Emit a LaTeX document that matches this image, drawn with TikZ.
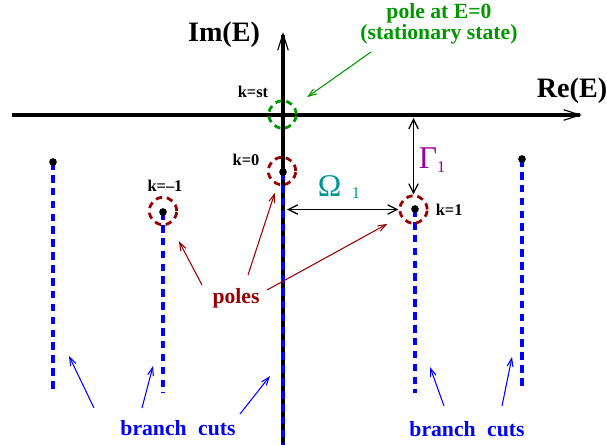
\documentclass[tikz,border=0pt]{standalone}
\usepackage{fontspec}
\setmainfont{Liberation Serif}
\usetikzlibrary{arrows.meta, positioning}

\definecolor{polered}{RGB}{150,0,0}
\definecolor{stgreen}{RGB}{0,150,0}
\definecolor{cutblue}{RGB}{0,0,255}
\definecolor{gampurple}{RGB}{153,0,153}
\definecolor{omteal}{RGB}{0,150,150}

\begin{document}
\begin{tikzpicture}[x=0.03cm, y=-0.03cm, inner sep=0pt,
    axis/.style={line width=3.6pt, -{Straight Barb[length=14pt, width=9pt, line width=1pt]}},
    gap/.style={line width=1.2pt, {Straight Barb[length=8pt, width=8pt, line width=1.1pt]}-{Straight Barb[length=8pt, width=8pt, line width=1.1pt]}},
    pointer/.style={line width=0.9pt, -{Straight Barb[length=7pt, width=5pt, line width=0.9pt]}},
    cut/.style={cutblue, line width=2.6pt, dash pattern=on 6.5pt off 4.5pt},
    dot/.style={circle, fill=black, minimum size=0.23cm},
    ring/.style={circle, draw=#1, line width=2.4pt, dash pattern=on 5.5pt off 4pt, minimum size=0.82cm},
    klabel/.style={font=\bfseries\fontsize{14}{14}\selectfont},
    biglabel/.style={font=\bfseries\fontsize{24}{24}\selectfont},
    note/.style={font=\bfseries\fontsize{18.5}{16.5}\selectfont, align=center}]
    \useasboundingbox (0,0) rectangle (607,445);

    % axes
    \coordinate (xmin) at (12,115);
    \coordinate (xmax) at (582,115);
    \coordinate (ymin) at (283,445);
    \coordinate (ymax) at (283,32);
    \draw[axis] (xmin) -- (xmax);
    \draw[axis] (ymin) -- (ymax);
    \node[biglabel] (im) at (224,35) {Im(E)};
    \node[biglabel] (re) at (572,91) {Re(E)};

    % pole positions and their branch cuts
    \coordinate (kfl) at (53,162);
    \coordinate (km1) at (163,212);
    \coordinate (k0) at (283,172);
    \coordinate (k1) at (415,209);
    \coordinate (kfr) at (522,159);
    \coordinate (efl) at (53,393);
    \coordinate (em1) at (163,393);
    \coordinate (e0) at (283,445);
    \coordinate (e1) at (415,393);
    \coordinate (efr) at (522,388);
    \draw[cut] (kfl) -- (efl);
    \draw[cut] (km1) -- (em1);
    \draw[cut] (k0) -- (e0);
    \draw[cut] (k1) -- (e1);
    \draw[cut] (kfr) -- (efr);

    % rings round the poles
    \node[ring=stgreen] (rst) at (282.5,114.5) {};
    \node[ring=polered] (rm1) at (163,211) {};
    \node[ring=polered] (r0) at (282,171) {};
    \node[ring=polered] (r1) at (413.5,209.5) {};

    \node[dot] (pfl) at (kfl) {};
    \node[dot] (pm1) at (km1) {};
    \node[dot] (p0) at (k0) {};
    \node[dot] (p1) at (k1) {};
    \node[dot] (pfr) at (kfr) {};

    \node[klabel] (lst) at (253,92) {k=st};
    \node[klabel] (lk0) at (246,160) {k=0};
    \node[klabel] (lkm1) at (165,186) {k=–1};
    \node[klabel, right=6pt of r1] (lk1) {k=1};

    % widths
    \coordinate (gtop) at (413.5,118);
    \coordinate (oleft) at (287,209.5);
    \draw[gap] (gtop) -- (r1.north);
    \draw[gap] (oleft) -- (r1.west);
    \node[font=\fontsize{27}{27}\selectfont, text=gampurple] (gam) at (432,160) {Γ\raisebox{-4pt}{\fontsize{14}{14}\selectfont 1}};
    \node[font=\fontsize{27}{27}\selectfont, text=omteal] (om) at (339,187) {Ω\hspace{9pt}\raisebox{-2pt}{\fontsize{14}{14}\selectfont 1}};

    % pointers
    \node[note, text=stgreen] (stat) at (439,24) {pole at E=0\\(stationary state)};
    \coordinate (tst) at (371,52);
    \draw[pointer, stgreen, shorten >=0.45cm] (tst) -- (rst);

    \node[note, text=polered] (poles) at (236,298) {poles};
    \coordinate (tm1) at (202,285);
    \coordinate (t0) at (248,275);
    \coordinate (t1) at (267,290);
    \draw[pointer, polered, shorten >=0.57cm] (tm1) -- (rm1);
    \draw[pointer, polered, shorten >=0.24cm] (t0) -- (r0);
    \draw[pointer, polered, shorten >=0.44cm] (t1) -- (r1);

    \node[note, text=cutblue] (bcl) at (178,428) {branch\hspace{0.53em}cuts};
    \node[note, text=cutblue] (bcr) at (467,429) {branch\hspace{0.53em}cuts};
    \coordinate (bt1) at (94,408);   \coordinate (bh1) at (69,356);
    \coordinate (bt2) at (142,408);  \coordinate (bh2) at (153,366);
    \coordinate (bt3) at (240,414);  \coordinate (bh3) at (270,376);
    \coordinate (bt4) at (444,406);  \coordinate (bh4) at (430,367);
    \coordinate (bt5) at (502,406);  \coordinate (bh5) at (512,357);
    \draw[pointer, cutblue] (bt1) -- (bh1);
    \draw[pointer, cutblue] (bt2) -- (bh2);
    \draw[pointer, cutblue] (bt3) -- (bh3);
    \draw[pointer, cutblue] (bt4) -- (bh4);
    \draw[pointer, cutblue] (bt5) -- (bh5);
\end{tikzpicture}
\end{document}
